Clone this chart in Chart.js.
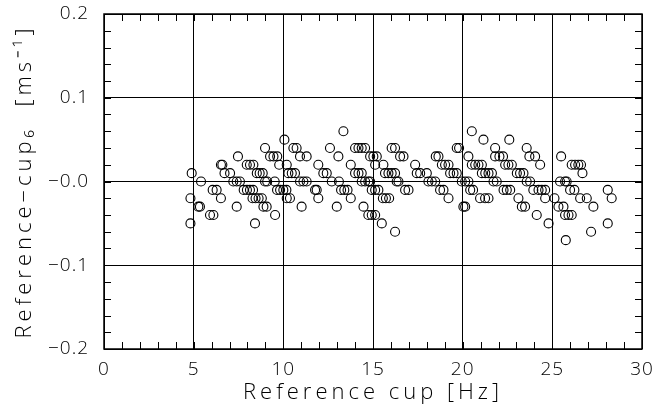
<!DOCTYPE html>
<html>
<head>
<meta charset="utf-8">
<script src="https://cdn.jsdelivr.net/npm/chart.js@4.4.1/dist/chart.umd.min.js"></script>
<style>
  html, body { margin: 0; padding: 0; background: #ffffff; }
  #wrap { width: 653px; height: 414px; }
</style>
</head>
<body>
<div id="wrap"><canvas id="c" width="653" height="414"></canvas></div>
<script>
// Reference cup speed [Hz] and difference Reference - cup6 [m/s]
const speedHz = [
  4.82, 4.82, 4.89, 5.26, 5.35, 5.41, 5.91, 6.10, 6.06, 6.28, 6.52, 6.52, 6.60, 6.72, 7.03,
  7.21, 7.40, 7.58, 7.40, 7.47, 7.79, 7.97, 8.14, 8.31, 7.96, 8.14, 8.33, 8.52, 8.68, 8.85,
  8.28, 8.45, 8.62, 8.80, 8.42, 8.98, 8.98, 9.10, 9.52, 8.89, 9.07, 9.26, 9.45, 9.66, 9.54,
  9.65, 9.82, 10.00, 10.17, 9.77, 10.19, 10.06,
  10.56, 10.74, 10.93, 11.30, 10.28, 10.47, 10.65, 10.93, 11.12, 11.30, 10.19, 10.37, 11.02,
  11.77, 11.86, 11.95, 11.95, 12.23, 12.42, 12.60, 13.07, 12.70, 13.10, 12.98, 13.22, 13.40,
  13.58, 13.35, 13.76, 13.76, 14.00, 14.19, 14.37, 14.56, 14.00, 14.19, 14.37, 14.84, 15.02,
  15.21, 14.37, 14.56, 14.74, 14.84, 14.47, 14.74, 14.93, 15.12,
  15.12, 14.93, 15.12, 15.30, 15.55, 15.72, 15.90, 15.49, 16.23, 15.58, 15.67, 15.86, 16.04,
  16.23, 16.04, 16.23, 16.51, 16.70, 16.32, 16.42, 16.79, 16.98, 17.35, 17.44, 17.63, 18.00,
  18.09, 18.28, 18.47, 18.50, 18.65, 18.84, 19.02, 19.21, 19.30, 19.49, 19.67, 18.74, 18.93,
  19.21, 19.67, 19.80, 19.95, 20.14, 20.32, 20.04, 20.14,
  20.51, 21.16, 22.60, 21.81, 23.57, 20.32, 21.81, 22.05, 22.25, 23.72, 24.04, 20.51, 20.70,
  20.88, 21.07, 22.37, 22.55, 22.74, 24.32, 21.07, 21.26, 21.44, 21.63, 23.02, 23.20, 23.39,
  21.72, 21.90, 23.57, 23.76, 20.42, 20.58, 22.28, 22.46, 22.65, 23.94, 24.23, 24.41, 24.60,
  20.97, 21.25, 21.44, 23.11, 24.60, 23.30, 23.48, 24.13, 24.79,
  25.49, 26.08, 26.27, 26.45, 26.60, 26.68, 25.43, 25.71, 25.80, 25.99, 26.23, 28.09, 25.12,
  26.55, 26.92, 28.31, 25.34, 25.62, 27.29, 25.71, 25.90, 26.08, 28.09, 27.16, 25.75
];
const diffMs = [
  -0.05, -0.02, 0.01, -0.03, -0.03, 0.00, -0.04, -0.04, -0.01, -0.01, -0.02, 0.02, 0.02, 0.01, 0.01,
  0.00, 0.00, 0.00, -0.03, 0.03, -0.01, -0.01, -0.01, -0.01, 0.02, 0.02, 0.02, 0.01, 0.01, 0.01,
  -0.02, -0.02, -0.02, -0.02, -0.05, 0.04, 0.00, 0.00, 0.00, -0.03, -0.03, 0.03, 0.03, 0.03, -0.04,
  -0.01, -0.01, -0.01, -0.01, 0.02, 0.02, 0.05,
  0.04, 0.04, 0.03, 0.03, 0.01, 0.01, 0.01, 0.00, 0.00, 0.00, -0.02, -0.02, -0.03,
  -0.01, -0.01, -0.02, 0.02, 0.01, 0.01, 0.04, 0.03, 0.00, 0.00, -0.03, -0.01, -0.01,
  -0.01, 0.06, 0.02, -0.02, 0.04, 0.04, 0.04, 0.04, 0.01, 0.01, 0.01, 0.03, 0.03,
  0.03, 0.00, 0.00, 0.00, 0.00, -0.03, -0.04, -0.04, -0.04,
  0.02, -0.01, -0.01, -0.01, -0.02, -0.02, -0.02, -0.05, -0.06, 0.02, 0.01, 0.01, 0.01,
  0.01, 0.04, 0.04, 0.03, 0.03, 0.00, 0.00, -0.01, -0.01, 0.02, 0.01, 0.01, 0.01,
  0.00, 0.00, 0.00, 0.03, 0.03, 0.02, 0.02, 0.02, 0.01, 0.01, 0.01, -0.01, -0.01,
  -0.02, 0.04, 0.04, 0.00, 0.00, 0.00, -0.03, -0.03,
  0.06, 0.05, 0.05, 0.04, 0.04, 0.03, 0.03, 0.03, 0.03, 0.03, 0.03, 0.02, 0.02,
  0.02, 0.02, 0.02, 0.02, 0.02, 0.02, 0.01, 0.01, 0.01, 0.01, 0.01, 0.01, 0.01,
  0.00, 0.00, 0.00, 0.00, -0.01, -0.01, -0.01, -0.01, -0.01, -0.01, -0.01, -0.01, -0.01,
  -0.02, -0.02, -0.02, -0.02, -0.02, -0.03, -0.03, -0.04, -0.05,
  0.03, 0.02, 0.02, 0.02, 0.02, 0.01, 0.00, 0.00, 0.00, -0.01, -0.01, -0.01, -0.02,
  -0.02, -0.02, -0.02, -0.03, -0.03, -0.03, -0.04, -0.04, -0.04, -0.05, -0.06, -0.07
];

// Axis ticks
const xTickValues = [0, 5, 10, 15, 20, 25, 30];
const xTickLabels = ['0', '5', '10', '15', '20', '25', '30'];
const yTickValues = [-0.2, -0.1, 0, 0.1, 0.2];
const yTickLabels = ['\u22120.2', '\u22120.1', '\u22120.0', '0.1', '0.2'];

const FONT = "'Open Sans', 'DejaVu Sans', sans-serif";
const FONT_WEIGHT = 300;
const points = speedHz.map((x, i) => ({ x: x, y: diffMs[i] }));

function labelFor(values, labels, v) {
  for (let i = 0; i < values.length; i++) {
    if (Math.abs(values[i] - v) < 1e-9) return labels[i];
  }
  return '';
}

// Fixed axis box sizes; no extra edge padding for overhanging tick labels
function fitX(s) {
  s.height = 65;
  s.paddingLeft = 0; s.paddingRight = 0;
}
function fitY(s) {
  s.width = 104;
  s.paddingTop = 0; s.paddingBottom = 0;
}

// Wider letter spacing for axis text, inward minor ticks on all sides, box frame
const frameAndTicks = {
  id: 'frameAndTicks',
  beforeDraw(chart) {
    Object.values(chart.scales).forEach(s => {
      if (s._spaced) return;
      const origTitle = s.drawTitle;
      s.drawTitle = function () {
        const c = this.ctx;
        c.save();
        c.letterSpacing = '4px';
        origTitle.apply(this, arguments);
        c.restore();
      };
      const origLabels = s.drawLabels;
      s.drawLabels = function () {
        const c = this.ctx;
        c.save();
        c.letterSpacing = '1px';
        origLabels.apply(this, arguments);
        c.restore();
      };
      s._spaced = true;
    });
  },
  afterDraw(chart) {
    const { ctx, chartArea: a, scales } = chart;
    const len = 7;
    ctx.save();
    ctx.strokeStyle = '#000';
    ctx.lineWidth = 1;
    ctx.beginPath();
    for (let v = 0; v <= 30; v += 1) {
      const px = Math.round(scales.x.getPixelForValue(v)) + 0.5;
      ctx.moveTo(px, a.bottom); ctx.lineTo(px, a.bottom - len);
      ctx.moveTo(px, a.top); ctx.lineTo(px, a.top + len);
    }
    for (let k = -10; k <= 10; k++) {
      const py = Math.round(scales.y.getPixelForValue(k * 0.02)) + 0.5;
      ctx.moveTo(a.left, py); ctx.lineTo(a.left + len, py);
      ctx.moveTo(a.right, py); ctx.lineTo(a.right - len, py);
    }
    ctx.stroke();
    ctx.lineWidth = 1.5;
    ctx.strokeRect(a.left, a.top, a.right - a.left, a.bottom - a.top);
    ctx.restore();
  }
};

new Chart(document.getElementById('c'), {
  type: 'scatter',
  data: {
    datasets: [{
      data: points,
      pointStyle: 'circle',
      pointRadius: 4.5,
      pointHoverRadius: 4.5,
      borderWidth: 1.1,
      borderColor: '#000',
      backgroundColor: 'rgba(0,0,0,0)'
    }]
  },
  options: {
    responsive: false,
    animation: false,
    events: [],
    layout: { autoPadding: false, padding: { top: 14, right: 11, left: 0, bottom: 0 } },
    plugins: { legend: { display: false }, tooltip: { enabled: false } },
    scales: {
      x: {
        type: 'linear',
        min: 0, max: 30,
        afterFit: fitX,
        afterBuildTicks: s => { s.ticks = xTickValues.map(v => ({ value: v })); },
        ticks: {
          autoSkip: false, maxRotation: 0, color: '#000', padding: 9,
          font: { family: FONT, size: 19, weight: FONT_WEIGHT },
          callback: v => labelFor(xTickValues, xTickLabels, v)
        },
        grid: { color: '#000', lineWidth: 1, drawTicks: false },
        border: { display: false },
        title: {
          display: true, text: 'Reference cup [Hz]', color: '#000',
          font: { family: FONT, size: 22, weight: FONT_WEIGHT }, padding: { top: 0, bottom: 8 }
        }
      },
      y: {
        type: 'linear',
        min: -0.2, max: 0.2,
        afterFit: fitY,
        afterBuildTicks: s => { s.ticks = yTickValues.map(v => ({ value: v })); },
        ticks: {
          autoSkip: false, color: '#000', padding: 15,
          font: { family: FONT, size: 19, weight: FONT_WEIGHT },
          callback: v => labelFor(yTickValues, yTickLabels, v)
        },
        grid: { color: '#000', lineWidth: 1, drawTicks: false },
        border: { display: false },
        title: {
          display: true, text: 'Reference\u2212cup\u2086  [ms\u207B\u00B9]', color: '#000',
          font: { family: FONT, size: 22, weight: FONT_WEIGHT }, padding: { top: 12, bottom: 0 }
        }
      }
    }
  },
  plugins: [frameAndTicks]
});
</script>
</body>
</html>
